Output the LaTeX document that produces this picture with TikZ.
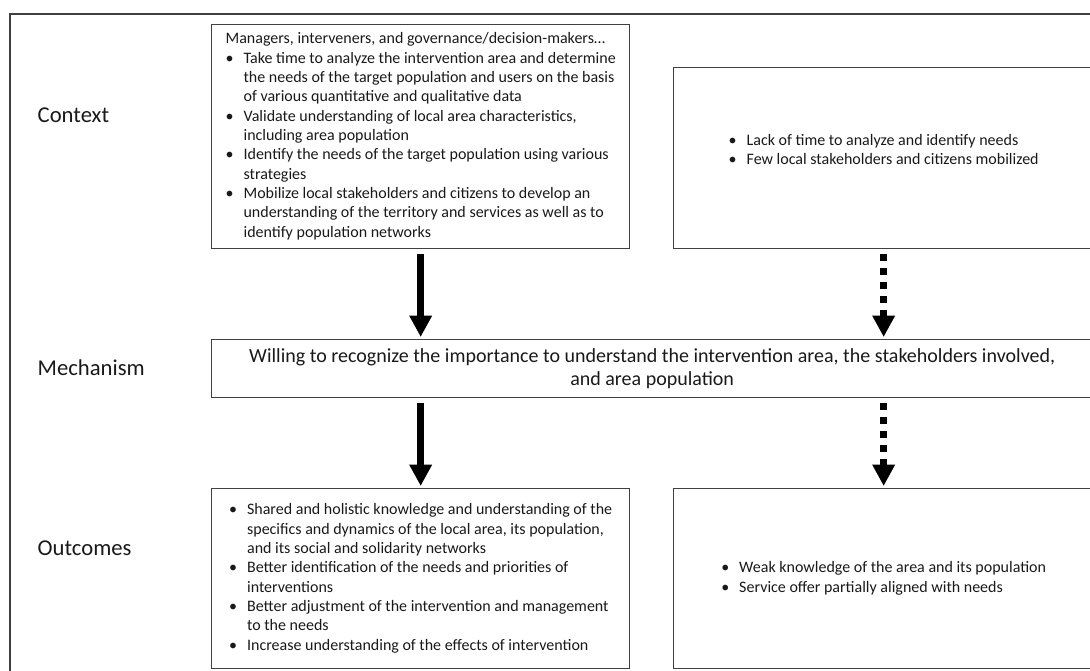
\documentclass[tikz,border=0pt]{standalone}
\usepackage{fontspec}
\setmainfont{Carlito}
\usepackage{tikz}
\usetikzlibrary{arrows.meta}
\tikzset{
frame/.style={ % outer frame, runs off the page
draw=black!75,
line width=1pt},
pbox/.style={ % every box of the grid
draw=black!75,
line width=1pt,
anchor=north west,
inner xsep=8.25pt,
inner ysep=0pt,
text=black!90,
font=\fontsize{12}{14.5}\selectfont},
rowlabel/.style={ % Context, Mechanism, Outcomes
anchor=west,
text=black!90,
font=\fontsize{17}{20}\selectfont},
solidarrow/.style={
-{Triangle[width=16pt,length=16pt]},
line width=5pt,
shorten <=3.75pt,
shorten >=1.5pt},
dotarrow/.style={ % square dots, solid head
solidarrow,
dash pattern=on 5.25pt off 5.25pt}}

\begin{document}
\begin{tikzpicture}[x=0.75pt,y=-0.75pt]
\useasboundingbox (0,0) rectangle (1090,671);
\clip (0,0) rectangle (1090,671);
\draw[frame] (10,14) rectangle (1110,690);
% row labels
\node[rowlabel] (lctx) at (33,115) {Context};
\node[rowlabel] (lmech) at (33,368) {Mechanism};
\node[rowlabel] (lout) at (33,548) {Outcomes};
% context
\node[pbox, minimum width=313.5pt, minimum height=168pt] (ctxA) at (211,24) {%
\begin{tabular}{@{}p{13.5pt}@{}l@{}}
\multicolumn{2}{@{}l@{}}{Managers, interveners, and governance/decision-makers…}\\
\textbullet & Take time to analyze the intervention area and determine\\
 & the needs of the target population and users on the basis\\
 & of various quantitative and qualitative data\\
\textbullet & Validate understanding of local area characteristics,\\
 & including area population\\
\textbullet & Identify the needs of the target population using various\\
 & strategies\\
\textbullet & Mobilize local stakeholders and citizens to develop an\\
 & understanding of the territory and services as well as to\\
 & identify population networks
\end{tabular}};
\node[pbox, minimum width=315pt, minimum height=135.75pt] (ctxB) at (673,67) {%
\begin{tabular}{@{}p{13.5pt}@{}l@{}}
\textbullet & Lack of time to analyze and identify needs\\
\textbullet & Few local stakeholders and citizens mobilized\\[10.5pt]
\end{tabular}};
% mechanism
\node[pbox, minimum width=660.75pt, minimum height=43.5pt, align=center,
font=\fontsize{15}{17.5}\selectfont] (mech) at (211,339) {Willing to recognize the importance to understand the intervention area, the stakeholders involved,\\and area population};
% outcomes
\node[pbox, minimum width=313.5pt, minimum height=135pt] (outA) at (211,488) {%
\begin{tabular}{@{}p{13.5pt}@{}l@{}}
\textbullet & Shared and holistic knowledge and understanding of the\\
 & specifics and dynamics of the local area, its population,\\
 & and its social and solidarity networks\\
\textbullet & Better identification of the needs and priorities of\\
 & interventions\\
\textbullet & Better adjustment of the intervention and management\\
 & to the needs\\
\textbullet & Increase understanding of the effects of intervention
\end{tabular}};
\node[pbox, minimum width=315pt, minimum height=135pt] (outB) at (673,488) {%
\begin{tabular}{@{}p{13.5pt}@{}l@{}}
\textbullet & Weak knowledge of the area and its population\\
\textbullet & Service offer partially aligned with needs
\end{tabular}};
% arrows
\draw[solidarrow] (ctxA.south) -- (ctxA.south |- mech.north);
\draw[dotarrow] (ctxB.south) -- (ctxB.south |- mech.north);
\draw[solidarrow] (ctxA.south |- mech.south) -- (outA.north);
\draw[dotarrow] (ctxB.south |- mech.south) -- (outB.north);
\end{tikzpicture}
\end{document}
